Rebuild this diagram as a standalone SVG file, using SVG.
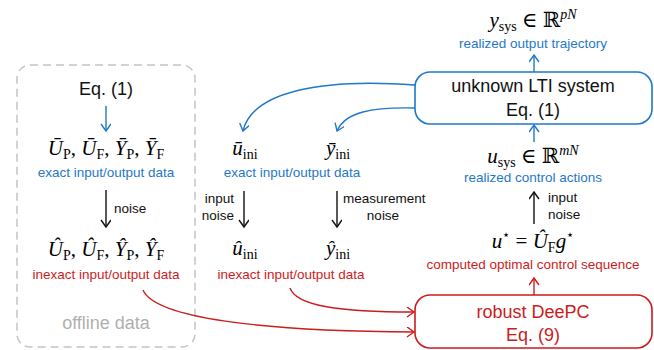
<svg xmlns="http://www.w3.org/2000/svg" width="654" height="350" viewBox="0 0 654 350">
<style>
.s{font-family:"Liberation Sans","DejaVu Sans",sans-serif;}
.sm{font-size:13.5px;}
.big{font-size:18px;}
.m{font-family:"Liberation Serif","DejaVu Serif",serif;font-size:21px;}
.i{font-style:italic;}
.sub{font-size:14px;font-style:normal;}
.blue{fill:#1f78c8;}
.red{fill:#cc1c1c;}
.blk{fill:#111;}
.cb{stroke:#1f78c8;fill:none;stroke-width:1.4;}
.cr{stroke:#cc1c1c;fill:none;stroke-width:1.4;}
.ck{stroke:#111;fill:none;stroke-width:1.4;}
</style>
<defs>
<marker id="ab" markerWidth="12" markerHeight="12" refX="8" refY="5" orient="auto" markerUnits="userSpaceOnUse"><path d="M1,0 L8,5 L1,10" fill="none" stroke="#1f78c8" stroke-width="1.4"/></marker>
<marker id="ar" markerWidth="12" markerHeight="12" refX="8" refY="5" orient="auto" markerUnits="userSpaceOnUse"><path d="M1,0 L8,5 L1,10" fill="none" stroke="#cc1c1c" stroke-width="1.4"/></marker>
<marker id="ak" markerWidth="12" markerHeight="12" refX="8" refY="5" orient="auto" markerUnits="userSpaceOnUse"><path d="M1,0 L8,5 L1,10" fill="none" stroke="#111" stroke-width="1.4"/></marker>
</defs>
<rect width="654" height="350" fill="#fff"/>

<g id="offline">
<rect x="17" y="65" width="178" height="282" rx="13" fill="none" stroke="#c4c4c4" stroke-width="1.5" stroke-dasharray="8,5"/>
<text class="s big blk" x="106" y="95" text-anchor="middle">Eq. (1)</text>
<text class="m i" x="106" y="155" text-anchor="middle">Ū<tspan class="sub" dy="4">P</tspan><tspan dy="-4" font-style="normal">, </tspan>Ū<tspan class="sub" dy="4">F</tspan><tspan dy="-4" font-style="normal">, </tspan>Ȳ<tspan class="sub" dy="4">P</tspan><tspan dy="-4" font-style="normal">, </tspan>Ȳ<tspan class="sub" dy="4">F</tspan></text>
<text class="s sm blue" x="106" y="177" text-anchor="middle">exact input/output data</text>
<text class="s sm blk" x="114" y="213">noise</text>
<text class="m i" x="106" y="256" text-anchor="middle">Û<tspan class="sub" dy="4">P</tspan><tspan dy="-4" font-style="normal">, </tspan>Û<tspan class="sub" dy="4">F</tspan><tspan dy="-4" font-style="normal">, </tspan>Ŷ<tspan class="sub" dy="4">P</tspan><tspan dy="-4" font-style="normal">, </tspan>Ŷ<tspan class="sub" dy="4">F</tspan></text>
<text class="s sm red" x="106" y="279" text-anchor="middle">inexact input/output data</text>
<text class="s" x="106" y="329" text-anchor="middle" font-size="18" fill="#b0b0b0">offline data</text>
</g>

<g id="online-data">
<text class="m i" x="245" y="155" text-anchor="middle">ū<tspan class="sub" dy="4">ini</tspan></text>
<text class="m i" x="338" y="155" text-anchor="middle">ȳ<tspan class="sub" dy="4">ini</tspan></text>
<text class="s sm blue" x="292" y="177" text-anchor="middle">exact input/output data</text>
<text class="s sm blk" x="234" y="203" text-anchor="end">input</text>
<text class="s sm blk" x="234" y="220" text-anchor="end">noise</text>
<text class="s sm blk" x="343" y="203">measurement</text>
<text class="s sm blk" x="383" y="220" text-anchor="middle">noise</text>
<text class="m i" x="245" y="255" text-anchor="middle">û<tspan class="sub" dy="4">ini</tspan></text>
<text class="m i" x="338" y="255" text-anchor="middle">ŷ<tspan class="sub" dy="4">ini</tspan></text>
<text class="s sm red" x="291" y="279" text-anchor="middle">inexact input/output data</text>
</g>

<g id="system">
<rect x="415" y="72" width="237" height="52" rx="15" fill="#fff" stroke="#1f78c8" stroke-width="1.6"/>
<text class="s blk" font-size="18" x="533" y="92" text-anchor="middle">unknown LTI system</text>
<text class="s blk" font-size="18" x="533" y="116" text-anchor="middle">Eq. (1)</text>
</g>

<g id="output">
<text class="m" x="533" y="27" text-anchor="middle"><tspan class="i">y</tspan><tspan class="sub" dy="4">sys</tspan><tspan dy="-4"> ∈ ℝ</tspan><tspan class="i" font-size="14" dy="-8">pN</tspan></text>
<text class="s sm blue" x="533" y="48" text-anchor="middle">realized output trajectory</text>
</g>

<g id="input">
<text class="m" x="533" y="163" text-anchor="middle"><tspan class="i">u</tspan><tspan class="sub" dy="4">sys</tspan><tspan dy="-4"> ∈ ℝ</tspan><tspan class="i" font-size="14" dy="-8">mN</tspan></text>
<text class="s sm blue" x="533" y="182" text-anchor="middle">realized control actions</text>
<text class="s sm blk" x="548" y="202">input</text>
<text class="s sm blk" x="548" y="219">noise</text>
</g>

<g id="optimal">
<text class="m" x="533" y="248" text-anchor="middle"><tspan class="i">u</tspan><tspan font-size="13" dy="-9">⋆</tspan><tspan dy="9"> = </tspan><tspan class="i">Û</tspan><tspan class="sub" dy="4">F</tspan><tspan class="i" dy="-4">g</tspan><tspan font-size="13" dy="-9">⋆</tspan></text>
<text class="s sm red" x="533" y="269" text-anchor="middle">computed optimal control sequence</text>
</g>

<g id="deepc">
<rect x="415" y="295" width="237" height="53" rx="15" fill="#fff" stroke="#cc1c1c" stroke-width="1.6"/>
<text class="s red" font-size="18" x="533" y="318" text-anchor="middle">robust DeePC</text>
<text class="s red" font-size="18" x="533" y="341" text-anchor="middle">Eq. (9)</text>
</g>

<g id="connectors">
<line class="cb" x1="106" y1="106" x2="106" y2="131" marker-end="url(#ab)"/>
<line class="ck" x1="106" y1="190" x2="106" y2="227" marker-end="url(#ak)"/>
<line class="ck" x1="244" y1="191" x2="244" y2="227" marker-end="url(#ak)"/>
<line class="ck" x1="337" y1="191" x2="337" y2="227" marker-end="url(#ak)"/>
<path class="cb" d="M415,85 C320,78 252,92 243,131" marker-end="url(#ab)"/>
<path class="cb" d="M415,108 C372,107 345,112 337,131" marker-end="url(#ab)"/>
<line class="cb" x1="534" y1="72" x2="534" y2="55" marker-end="url(#ab)"/>
<line class="cb" x1="534" y1="142" x2="534" y2="125" marker-end="url(#ab)"/>
<line class="ck" x1="534" y1="224" x2="534" y2="192" marker-end="url(#ak)"/>
<line class="cr" x1="534" y1="295" x2="534" y2="278" marker-end="url(#ar)"/>
<path class="cr" d="M143,290 C155,318 260,331 414,332" marker-end="url(#ar)"/>
<path class="cr" d="M290,288 C296,306 340,312 414,312" marker-end="url(#ar)"/>
</g>
</svg>
